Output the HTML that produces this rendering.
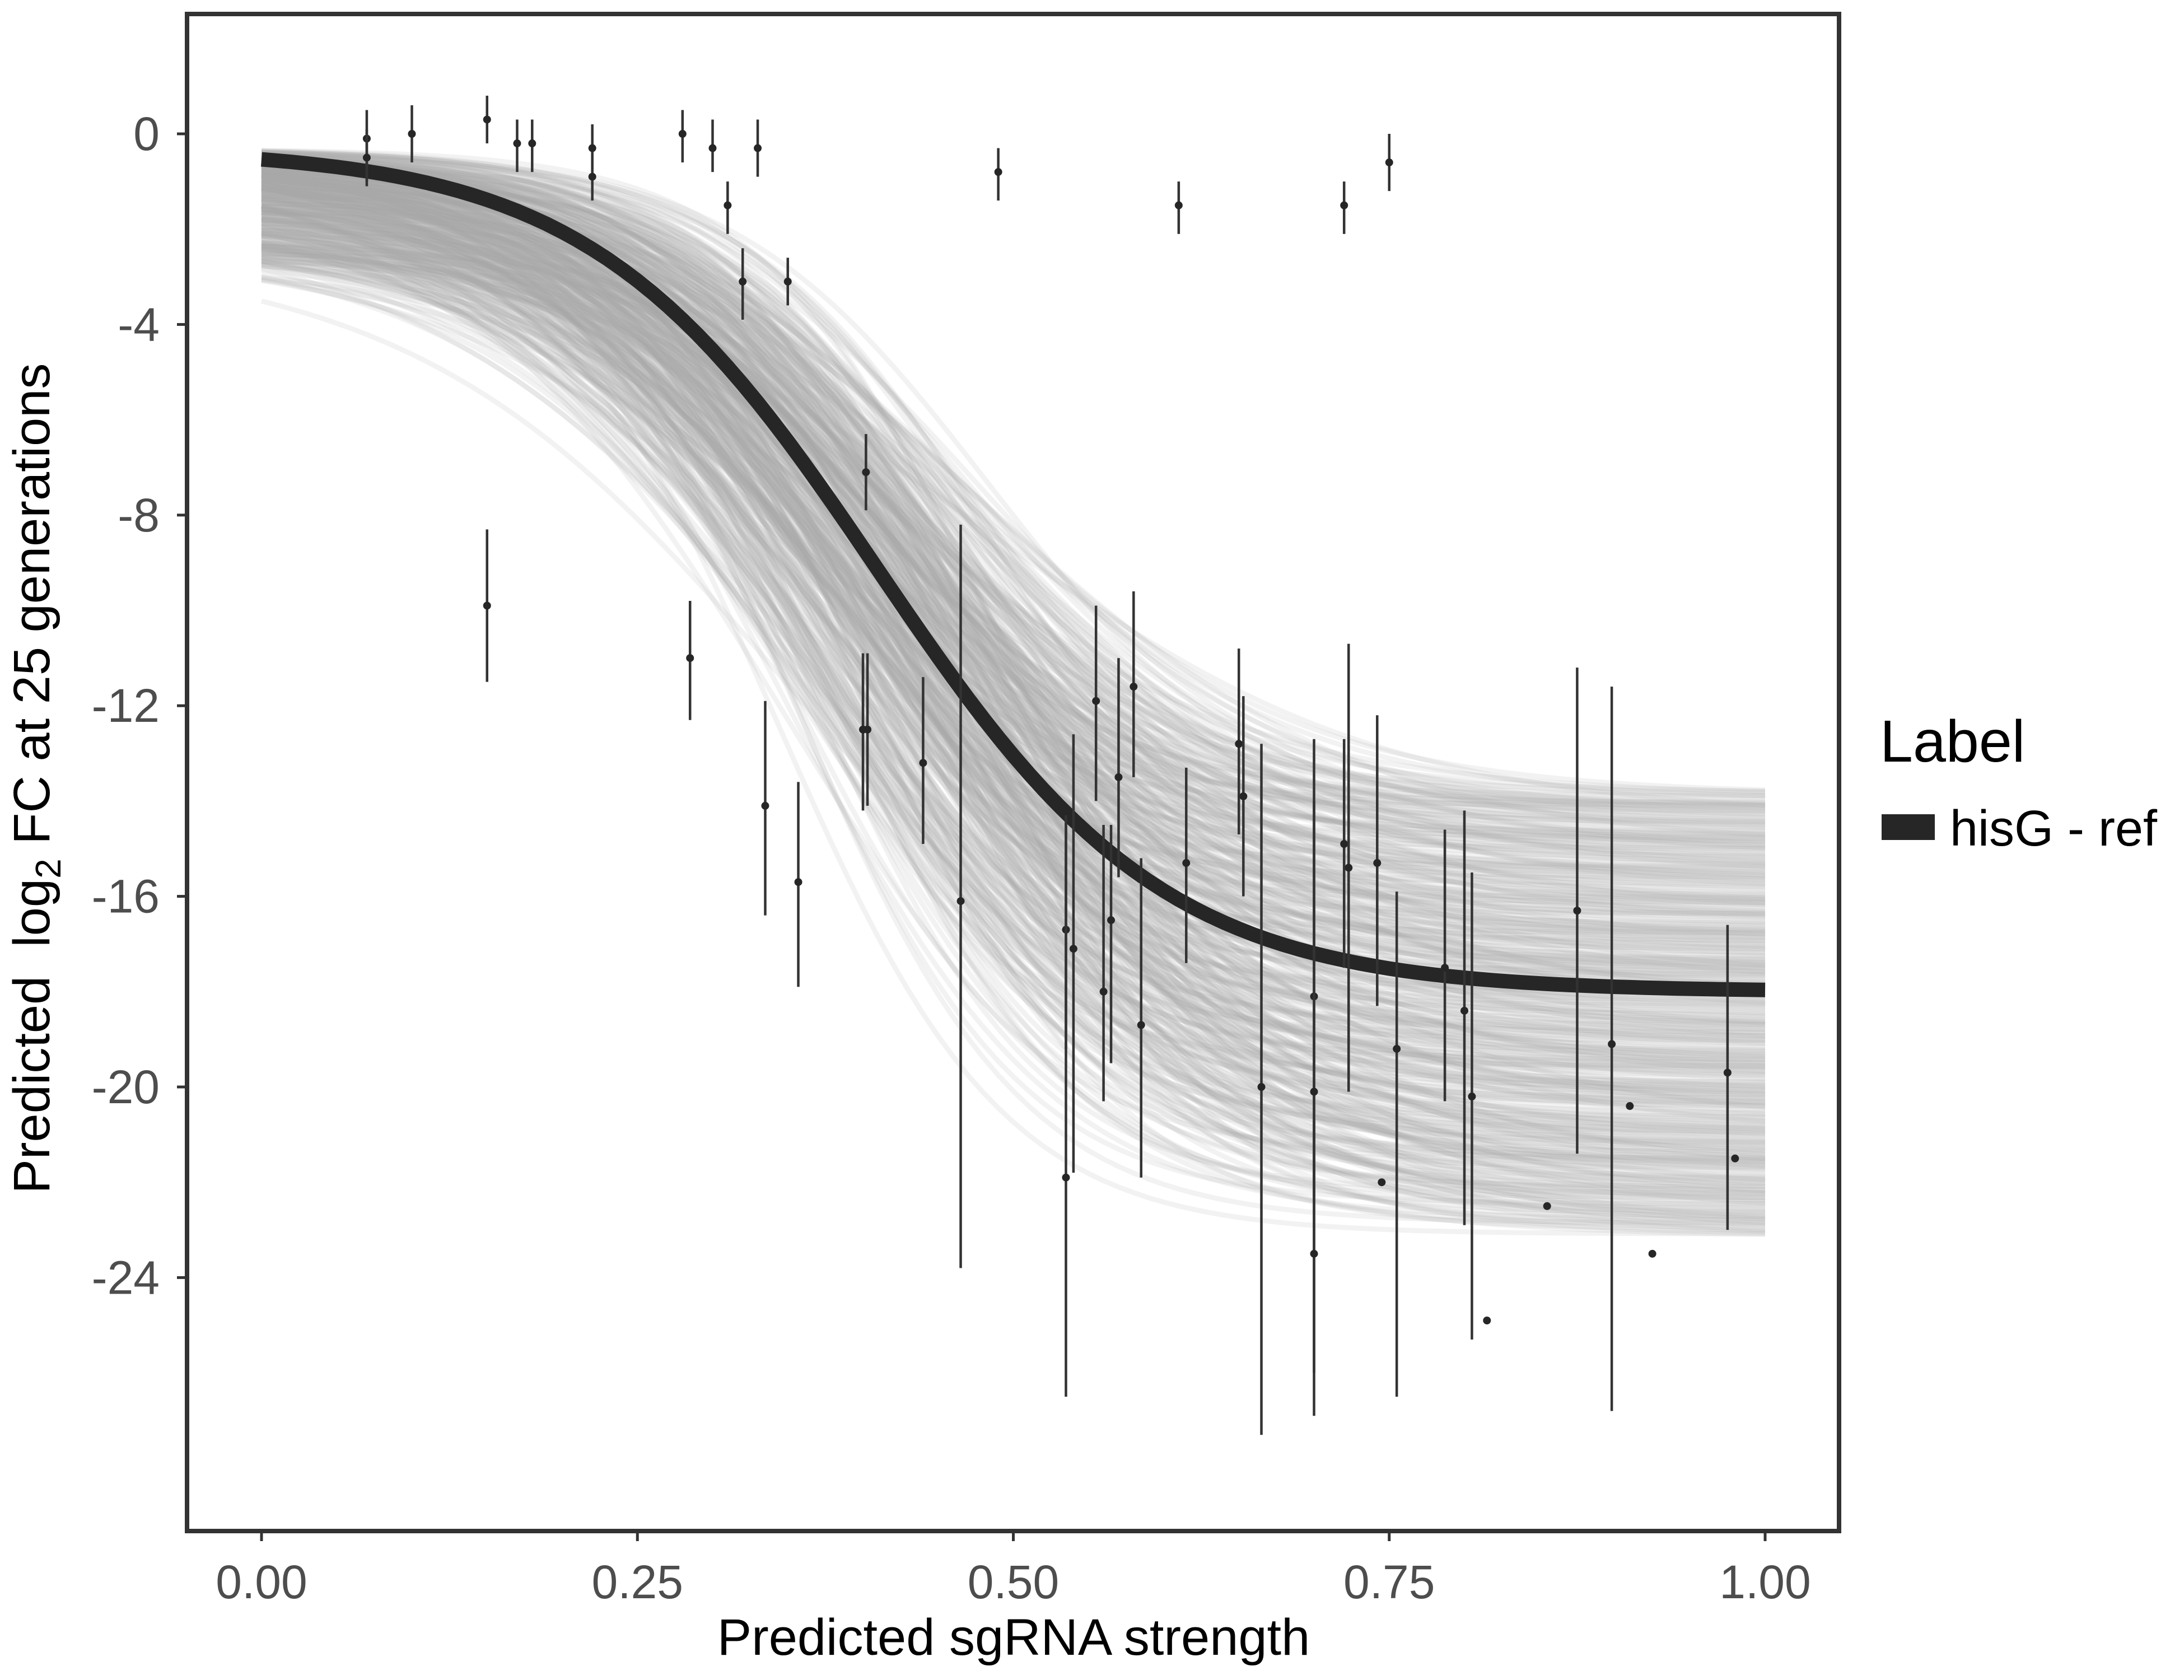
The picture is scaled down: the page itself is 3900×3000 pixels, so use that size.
<!DOCTYPE html>
<html><head><meta charset="utf-8"><style>
html,body{margin:0;padding:0;background:#fff}
svg{display:block}
text{font-family:"Liberation Sans",sans-serif}
</style></head><body>
<svg id="chart" width="3900" height="3000" viewBox="0 0 3900 3000">
<g id="band"></g>
<g id="mainline"></g>
<g id="pts"></g>
<rect x="334" y="25" width="2950" height="2709" fill="none" stroke="#333" stroke-width="8"/>
<g id="axes"></g>
<text x="1810" y="2955" font-size="92" fill="#000" text-anchor="middle">Predicted sgRNA strength</text>
<text transform="translate(88,1390) rotate(-90)" font-size="92" fill="#000" text-anchor="middle" xml:space="preserve">Predicted  log<tspan font-size="64" dy="20">2</tspan><tspan dy="-20"> FC at 25 generations</tspan></text>
<text x="3357" y="1360" font-size="106" fill="#000">Label</text>
<rect x="3360" y="1454" width="95" height="46" fill="#262626"/>
<text x="3482" y="1510" font-size="90" fill="#000">hisG - ref</text>
</svg>
<script>
const xTicks=[0,0.25,0.5,0.75,1];
const xTickLabels=["0.00","0.25","0.50","0.75","1.00"];
const yTicks=[0,-4,-8,-12,-16,-20,-24];
const yTickLabels=["0","-4","-8","-12","-16","-20","-24"];
const ptX=[0.07,0.07,0.10,0.15,0.17,0.18,0.22,0.22,0.28,0.30,0.33,0.31,0.32,0.35,0.49,0.61,0.72,0.75,0.15,0.285,0.335,0.357,0.402,0.400,0.403,0.44,0.465,0.535,0.535,0.54,0.555,0.56,0.565,0.57,0.58,0.585,0.615,0.65,0.653,0.665,0.700,0.700,0.700,0.720,0.723,0.742,0.745,0.755,0.787,0.800,0.805,0.815,0.855,0.875,0.898,0.910,0.925,0.975,0.980];
const ptY=[-0.1,-0.5,0.0,0.3,-0.2,-0.2,-0.3,-0.9,0.0,-0.3,-0.3,-1.5,-3.1,-3.1,-0.8,-1.5,-1.5,-0.6,-9.9,-11.0,-14.1,-15.7,-7.1,-12.5,-12.5,-13.2,-16.1,-16.7,-21.9,-17.1,-11.9,-18.0,-16.5,-13.5,-11.6,-18.7,-15.3,-12.8,-13.9,-20.0,-18.1,-20.1,-23.5,-14.9,-15.4,-15.3,-22.0,-19.2,-17.5,-18.4,-20.2,-24.9,-22.5,-16.3,-19.1,-20.4,-23.5,-19.7,-21.5];
const ptHi=[0.5,0.1,0.6,0.8,0.3,0.3,0.2,-0.4,0.5,0.3,0.3,-1.0,-2.4,-2.6,-0.3,-1.0,-1.0,0.0,-8.3,-9.8,-11.9,-13.6,-6.3,-10.9,-10.9,-11.4,-8.2,-14.3,-14.3,-12.6,-9.9,-14.5,-14.5,-11.0,-9.6,-15.2,-13.3,-10.8,-11.8,-12.8,-12.7,-14.0,-20.7,-12.7,-10.7,-12.2,-22.0,-15.9,-14.6,-14.2,-15.5,-24.9,-22.5,-11.2,-11.6,-20.4,-23.5,-16.6,-21.5];
const ptLo=[-1.1,-1.0,-0.6,-0.2,-0.8,-0.8,-0.8,-1.4,-0.6,-0.8,-0.9,-2.1,-3.9,-3.6,-1.4,-2.1,-2.1,-1.2,-11.5,-12.3,-16.4,-17.9,-7.9,-14.2,-14.1,-14.9,-23.8,-19.2,-26.5,-21.8,-14.0,-20.3,-19.5,-15.6,-13.5,-21.9,-17.4,-14.7,-16.0,-27.3,-26.0,-22.3,-26.9,-17.5,-20.1,-18.3,-22.0,-26.5,-20.3,-22.9,-25.3,-24.9,-22.5,-21.4,-26.8,-20.4,-23.5,-23.0,-21.5];
const fitA=-0.3, fitB=-18.0, fitK=10.5, fitM=0.41;
const NS="http://www.w3.org/2000/svg";
const X=v=>467+v*(3152-467);
const Y=v=>239-v*85.1;
function mk(tag,attrs,parent){const e=document.createElementNS(NS,tag);for(const k in attrs)e.setAttribute(k,attrs[k]);parent.appendChild(e);return e;}
function logi(x,a,b,k,m){return a+(b-a)/(1+Math.exp(-k*(x-m)));}
function curvePath(a,b,k,m){let d="";for(let i=0;i<=100;i++){const x=i/100;d+=(i?"L":"M")+X(x).toFixed(1)+","+Y(logi(x,a,b,k,m)).toFixed(1);}return d;}
const band=document.getElementById('band');
const phi=[0.618034,0.754878,0.569840,0.445280];
for(let i=0;i<400;i++){
  const u=phi.map((p,j)=>((i+1)*p+0.5*j)%1);
  const a=-0.3-2.3*u[0]*u[0];
  const b=-13.8-9.4*u[1];
  const k=7.5+6.0*u[2];
  const m=0.34+0.15*u[3];
  const p=mk('path',{d:curvePath(a,b,k,m),fill:'none',stroke:'#a8a8a8','stroke-width':9,'stroke-opacity':0.15},band);
  
  
}
const main=mk('path',{d:curvePath(fitA,fitB,fitK,fitM),fill:'none',stroke:'#262626','stroke-width':26},document.getElementById('mainline'));


const pts=document.getElementById('pts');
for(let i=0;i<ptX.length;i++){
  const l=mk('line',{x1:X(ptX[i]),x2:X(ptX[i]),y1:Y(ptHi[i]),y2:Y(ptLo[i]),stroke:'#333','stroke-width':4.5},pts);
  
  
  const c=mk('circle',{cx:X(ptX[i]),cy:Y(ptY[i]),r:7,fill:'#262626'},pts);
  
  
}
const ax=document.getElementById('axes');
xTicks.forEach((v,i)=>{
  const t=mk('line',{x1:X(v),x2:X(v),y1:2738,y2:2752,stroke:'#333','stroke-width':5},ax);
  
  
  const s=mk('text',{x:X(v),y:2854,'font-size':84,fill:'#4d4d4d','text-anchor':'middle'},ax);
  s.textContent=xTickLabels[i];
  
  
});
yTicks.forEach((v,i)=>{
  const t=mk('line',{x1:316,x2:330,y1:Y(v),y2:Y(v),stroke:'#333','stroke-width':5},ax);
  
  
  const s=mk('text',{x:285,y:Y(v)+29,'font-size':84,fill:'#4d4d4d','text-anchor':'end'},ax);
  s.textContent=yTickLabels[i];
  
  
});
</script>
</body></html>
